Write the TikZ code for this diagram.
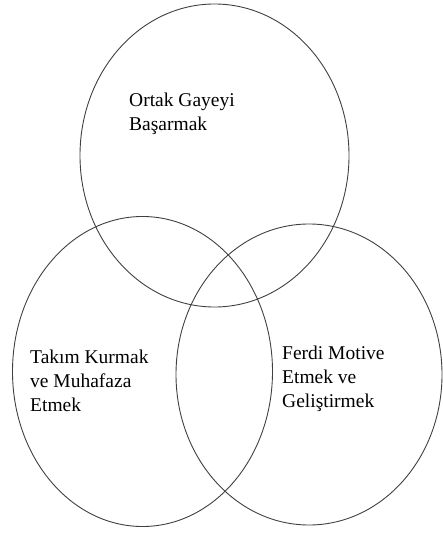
\documentclass[tikz,border=0pt]{standalone}
\usepackage{fontspec}
\setmainfont{Liberation Serif}
\usepackage{tikz}
\usetikzlibrary{positioning}

\begin{document}
\begin{tikzpicture}[x=1pt,y=-1pt,
	set/.style={draw=black!75,line width=0.9pt},
	lbl/.style={anchor=base west,align=left,inner sep=0pt,font=\fontsize{19.5}{24}\selectfont}]
	\useasboundingbox (0,0) rectangle (443,534);
	% three sets
	\draw[set] (214.5,155.5) ellipse (134.5pt and 151.5pt);
	\draw[set] (142.5,371.5) ellipse (130pt and 155pt);
	\draw[set] (309,374.5) ellipse (133pt and 150.5pt);
	% labels (base = last line)
	\node[lbl] (goal) at (129,131) {Ortak Gayeyi\\Başarmak};
	\node[lbl] (team) at (30,411) {Takım Kurmak\\ve Muhafaza\\Etmek};
	\node[lbl] (ferd) at (282,407) {Ferdi Motive\\Etmek ve\\Geliştirmek};
\end{tikzpicture}
\end{document}
